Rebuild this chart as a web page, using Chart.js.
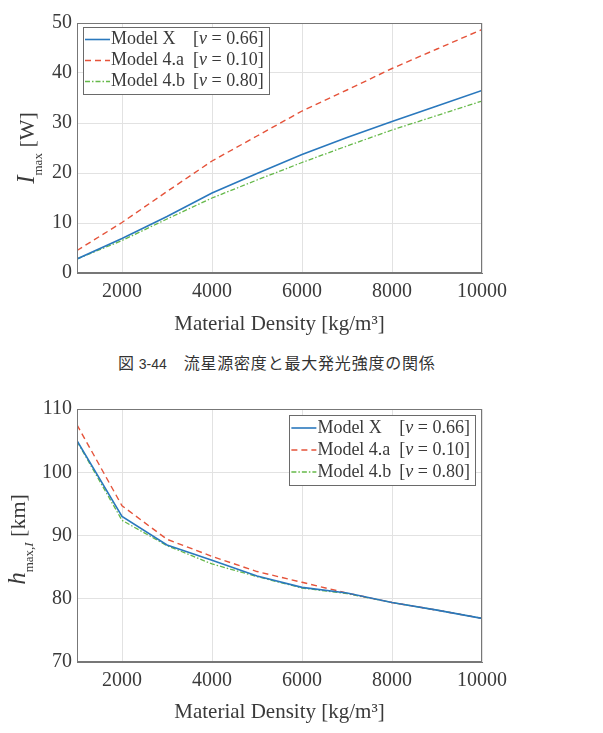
<!DOCTYPE html>
<html>
<head>
<meta charset="utf-8">
<script src="https://cdn.jsdelivr.net/npm/chart.js@4.4.0/dist/chart.umd.min.js"></script>
<style>
  body { margin: 0; background: #fff; width: 603px; height: 733px; position: relative; overflow: hidden; }
  #topChart { position: absolute; left: 0; top: 0; }
  #botChart { position: absolute; left: 0; top: 380px; }
  #caption { position: absolute; left: 118px; top: 350px; font-size: 16px; color: #333;
             font-family: "Noto Sans CJK JP"; letter-spacing: 0.8px; white-space: nowrap; }
  #caption .num { font-family: "Liberation Sans"; font-size: 14px; letter-spacing: 0; margin-left: 4px; }
</style>
</head>
<body>
<canvas id="topChart" width="603" height="340"></canvas>
<div id="caption">図<span class="num">3-44</span>　流星源密度と最大発光強度の関係</div>
<canvas id="botChart" width="603" height="353"></canvas>
<script>
// material density [kg/m^3]
const densities = [1000, 2000, 3000, 4000, 5000, 6000, 7000, 8000, 9000, 10000];
const xTicks = [2000, 4000, 6000, 8000, 10000];

const modelNames = ['Model X', 'Model 4.a', 'Model 4.b'];
const nuValues = ['0.66', '0.10', '0.80'];

// I_max [W]
const imaxModelX  = [2.8, 6.9, 11.3, 16.0, 19.9, 23.7, 27.1, 30.3, 33.4, 36.5];
const imaxModel4a = [4.5, 10.1, 16.3, 22.4, 27.4, 32.4, 36.6, 40.9, 44.8, 48.7];
const imaxModel4b = [2.8, 6.5, 10.8, 15.0, 18.6, 22.1, 25.4, 28.6, 31.5, 34.4];

// h_max,I [km]
const hmaxModelX  = [105.0, 93.0, 88.5, 86.1, 83.6, 81.8, 80.9, 79.4, 78.2, 76.9];
const hmaxModel4a = [107.5, 94.7, 89.4, 86.7, 84.3, 82.6, 80.9, 79.4, 78.2, 76.9];
const hmaxModel4b = [104.9, 92.4, 88.4, 85.5, 83.5, 81.7, 80.8, 79.4, 78.2, 76.9];

const serif = '"Liberation Serif", "DejaVu Serif", serif';
const textColor = '#3a3a3a';
const lineStyles = [
  { borderColor: '#2a78bd', borderWidth: 1.6, borderDash: [] },
  { borderColor: '#e5533a', borderWidth: 1.4, borderDash: [6, 4] },
  { borderColor: '#66b94a', borderWidth: 1.3, borderDash: [5, 2, 1.5, 2] }
];

function makeDatasets(series) {
  return series.map((vals, i) => Object.assign({
    label: modelNames[i] + '  [ν = ' + nuValues[i] + ']',
    data: densities.map((d, k) => ({ x: d, y: vals[k] })),
    pointRadius: 0,
    tension: 0,
    fill: false
  }, lineStyles[i]));
}

// box around the axes + boxed legend, MATLAB style
const framePlugin = {
  id: 'frame',
  afterDatasetsDraw(chart, args, o) {
    const { ctx, chartArea: a } = chart;
    ctx.save();
    ctx.strokeStyle = '#777';
    ctx.lineWidth = 1;
    ctx.setLineDash([]);
    ctx.strokeRect(Math.round(a.left) + 0.5, Math.round(a.top) + 0.5,
                   Math.round(a.right - a.left) - 1, Math.round(a.bottom - a.top) - 1);

    // legend
    const fs = 18;
    ctx.font = fs + 'px ' + serif;
    const nameW = Math.max(...modelNames.map(n => ctx.measureText(n).width));
    const tx0 = o.sample + 3;
    const bxOff = tx0 + nameW + 8;
    let brW = 0;
    nuValues.forEach(v => {
      ctx.font = fs + 'px ' + serif;
      let w = ctx.measureText('[').width + ctx.measureText(' = ' + v + ']').width;
      ctx.font = 'italic ' + fs + 'px ' + serif;
      w += ctx.measureText('ν').width;
      brW = Math.max(brW, w);
    });
    const w = bxOff + brW + 5;
    const h = o.row * 3 + 4;
    const x = o.right ? a.right - o.dx - w : a.left + o.dx;
    const y = a.top + o.dy;
    ctx.fillStyle = '#fff';
    ctx.fillRect(x, y, w, h);
    ctx.strokeStyle = '#6a6a6a';
    ctx.strokeRect(Math.round(x) + 0.5, Math.round(y) + 0.5, Math.round(w), Math.round(h));

    chart.data.datasets.forEach((ds, i) => {
      const cy = y + 2 + o.row * i + o.row / 2;
      ctx.strokeStyle = ds.borderColor;
      ctx.lineWidth = ds.borderWidth;
      ctx.setLineDash(ds.borderDash);
      ctx.beginPath();
      ctx.moveTo(x + 2, cy);
      ctx.lineTo(x + 2 + o.sample, cy);
      ctx.stroke();
      ctx.setLineDash([]);

      ctx.fillStyle = textColor;
      ctx.textBaseline = 'middle';
      ctx.textAlign = 'left';
      ctx.font = fs + 'px ' + serif;
      ctx.fillText(modelNames[i], x + tx0, cy);
      let bx = x + bxOff;
      ctx.fillText('[', bx, cy);
      bx += ctx.measureText('[').width;
      ctx.font = 'italic ' + fs + 'px ' + serif;
      ctx.fillText('ν', bx, cy);
      bx += ctx.measureText('ν').width;
      ctx.font = fs + 'px ' + serif;
      ctx.fillText(' = ' + nuValues[i] + ']', bx, cy);
    });
    ctx.restore();
  }
};

// rotated y-axis title with subscripts
const yTitlePlugin = {
  id: 'yTitle',
  afterDraw(chart, args, o) {
    const { ctx, chartArea: a } = chart;
    ctx.save();
    ctx.fillStyle = textColor;
    ctx.textBaseline = 'alphabetic';
    ctx.textAlign = 'left';
    let total = 0;
    o.parts.forEach(p => { ctx.font = p.font; p.w = ctx.measureText(p.t).width; total += p.w; });
    ctx.translate(o.x, (a.top + a.bottom) / 2 + o.shift);
    ctx.rotate(-Math.PI / 2);
    let px = -total / 2;
    o.parts.forEach(p => {
      ctx.font = p.font;
      ctx.fillText(p.t, px, p.dy || 0);
      px += p.w;
    });
    ctx.restore();
  }
};

function baseOptions(yMin, yMax, xTitlePad, xHeight, topPad, legendOpts, titleOpts) {
  return {
    responsive: false,
    animation: false,
    devicePixelRatio: 1,
    layout: { padding: { left: 0, right: 121, top: topPad, bottom: 0 } },
    plugins: {
      legend: { display: false },
      tooltip: { enabled: false },
      frame: legendOpts,
      yTitle: titleOpts
    },
    scales: {
      x: {
        type: 'linear',
        min: 1000,
        max: 10000,
        afterBuildTicks: s => { s.ticks = xTicks.map(v => ({ value: v })); },
        afterFit: s => { s.height = xHeight; },
        ticks: { color: textColor, font: { family: serif, size: 20 }, padding: 7, maxRotation: 0,
                 callback: v => String(v) },
        grid: { color: '#e2e2e2', drawTicks: false },
        border: { color: '#777' },
        title: { display: true, text: 'Material Density [kg/m³]', color: textColor,
                 font: { family: serif, size: 21 }, padding: { top: 0, bottom: xTitlePad } }
      },
      y: {
        min: yMin,
        max: yMax,
        afterFit: s => { s.width = 77; },
        ticks: { stepSize: 10, color: textColor, font: { family: serif, size: 20 }, padding: 5 },
        grid: { color: '#e2e2e2', drawTicks: false },
        border: { color: '#777' }
      }
    }
  };
}

new Chart(document.getElementById('topChart'), {
  type: 'line',
  data: { datasets: makeDatasets([imaxModelX, imaxModel4a, imaxModel4b]) },
  options: baseOptions(0, 50, 3, 67, 23,
    { right: false, dx: 6, dy: 4, row: 21, sample: 25 },
    { x: 34, shift: 0, parts: [
      { t: 'I', font: 'italic 25px ' + serif },
      { t: 'max', font: '13px ' + serif, dy: 8 },
      { t: ' [W]', font: '22px ' + serif }
    ] }),
  plugins: [framePlugin, yTitlePlugin]
});

new Chart(document.getElementById('botChart'), {
  type: 'line',
  data: { datasets: makeDatasets([hmaxModelX, hmaxModel4a, hmaxModel4b]) },
  options: baseOptions(70, 110, 8, 71, 29,
    { right: true, dx: 7, dy: 6, row: 22, sample: 25 },
    { x: 25, shift: 4, parts: [
      { t: 'h', font: 'italic 25px ' + serif },
      { t: 'max,', font: '13px ' + serif, dy: 8 },
      { t: 'I', font: 'italic 13px ' + serif, dy: 8 },
      { t: ' [km]', font: '22px ' + serif }
    ] }),
  plugins: [framePlugin, yTitlePlugin]
});
</script>
</body>
</html>
